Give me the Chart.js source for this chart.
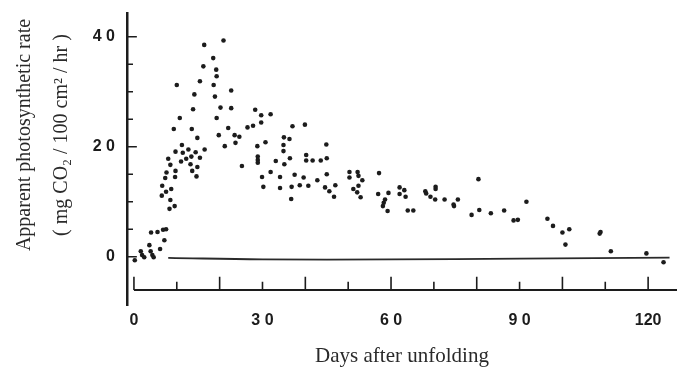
<!DOCTYPE html>
<html>
<head>
<meta charset="utf-8">
<script src="https://cdn.jsdelivr.net/npm/chart.js@4/dist/chart.umd.min.js"></script>
<style>
  html, body { margin: 0; padding: 0; background: #ffffff; }
  #wrap { width: 681px; height: 369px; position: relative; }
</style>
</head>
<body>
<div id="wrap"><canvas id="c"></canvas></div>
<script>
// ---- data ----
const days = [
  16.4, 20.9, 18.5, 16.2, 19.2, 19.3, 15.4, 18.6, 10.0, 22.7,
  14.1, 18.9, 13.8, 20.2, 22.7, 10.7, 19.3, 9.3, 13.5, 22.0,
  26.5, 14.8, 19.8, 23.5, 24.6, 23.7, 21.2, 11.2, 9.7, 11.4,
  12.7, 14.4, 16.5, 13.4, 12.2, 15.4, 11.0, 8.0, 13.2, 14.8,
  25.2, 8.5, 7.6, 9.7, 13.6, 9.6, 14.6, 7.3, 6.6, 8.7,
  7.5, 6.5, 8.5, 9.5, 8.3, 4.0, 5.5, 6.8, 7.5, 7.1,
  3.6, 6.1, 3.9, 4.3, 4.6, 1.6, 1.9, 2.4, 0.2,
  28.3, 29.7, 31.9, 27.8, 29.7, 28.8, 30.7, 28.9, 28.9, 28.9,
  33.1, 31.9, 29.9, 30.2, 37.0, 39.9, 35.0, 36.3, 34.9, 34.9,
  36.4, 35.1, 34.1, 34.1, 37.5, 36.8, 36.7, 38.7, 39.6, 40.7,
  40.2, 40.2, 41.7, 43.6, 45.0, 44.9, 42.8, 45.0, 44.6, 45.6,
  47.0, 46.7, 50.3, 50.3, 52.2, 52.4, 53.3, 52.4, 51.2, 52.1,
  52.9, 57.2, 57.0,
  59.4, 58.6, 58.3, 58.1, 59.2, 62.0, 62.0, 63.1, 63.4, 63.9,
  65.2, 68.0, 68.2, 70.4, 70.4, 69.2, 70.3, 72.5, 74.6, 74.7,
  75.6, 80.4, 78.8, 80.6, 83.3, 86.4, 88.6, 89.6, 91.6, 96.5,
  97.8, 100.0, 101.6, 100.7, 108.9, 108.7, 111.3, 119.6, 123.6
];
const rates = [
  38.5, 39.3, 36.1, 34.6, 34.0, 32.8, 31.9, 31.2, 31.2, 30.2,
  29.5, 29.1, 26.8, 27.1, 27.0, 25.2, 25.2, 23.2, 23.2, 23.4,
  23.5, 21.6, 22.1, 22.1, 21.8, 20.7, 20.1, 20.3, 19.1, 18.9,
  19.5, 19.0, 19.5, 18.2, 17.8, 18.0, 17.3, 17.8, 16.8, 16.3,
  16.5, 16.7, 15.3, 15.6, 15.6, 14.5, 14.6, 14.3, 12.9, 12.3,
  11.8, 11.1, 10.3, 9.2, 8.7, 4.4, 4.5, 4.9, 5.0, 3.0,
  2.1, 1.4, 1.0, 0.3, -0.1, 1.0, 0.3, -0.1, -0.65,
  26.7, 25.7, 25.9, 23.8, 24.4, 20.1, 20.8, 18.2, 17.6, 17.1,
  17.4, 15.4, 14.5, 12.7, 23.7, 24.0, 21.7, 21.4, 20.3, 19.2,
  17.9, 16.8, 14.5, 12.5, 14.9, 12.7, 10.5, 13.0, 14.4, 12.9,
  18.5, 17.5, 17.5, 17.5, 17.9, 20.4, 13.9, 15.0, 12.6, 11.9,
  13.0, 10.9, 15.4, 14.4, 15.4, 14.7, 13.9, 12.9, 12.3, 11.7,
  10.8, 15.2, 11.4,
  11.6, 10.4, 9.8, 9.2, 8.3, 12.6, 11.4, 12.1, 10.9, 8.4,
  8.4, 11.9, 11.5, 12.7, 12.3, 10.9, 10.4, 10.4, 9.5, 9.2,
  10.4, 14.1, 7.6, 8.5, 7.9, 8.4, 6.6, 6.7, 10.0, 6.9,
  5.6, 4.4, 5.0, 2.2, 4.5, 4.2, 1.0, 0.6, -1.0
];
// lower reference curve
const baseLineDays  = [8, 30, 60, 90, 125];
const baseLineRates = [-0.2, -0.5, -0.5, -0.35, -0.15];

// axes / ticks
const xTickValues = [0, 30, 60, 90, 120];
const xTickLabels = ["0", "3 0", "6 0", "9 0", "120"];
const yTickValues = [0, 20, 40];
const yTickLabels = ["0", "2 0", "4 0"];
const xMinorTicks = [0, 10, 20, 30, 40, 50, 60, 70, 80, 90, 100, 110, 120];
const yMinorTicks = [0, 5, 10, 15, 20, 25, 30, 35, 40];
const xAxisLineRate = -6.05;   // rate value at which the day axis line sits
const xTitle = "Days after unfolding";
const yTitleLines = ["Apparent photosynthetic rate", "( mg CO\u2082 / 100 cm\u00B2 / hr )"];

const INK = '#1c1c1c';
const X_MIN = -1.62, X_MAX = 126.74;
const Y_MIN = -8.78, Y_MAX = 44.3;

// axis decoration segments (built from the tick arrays, drawn by the line controller)
const dayAxisLine = [{ x: 0, y: xAxisLineRate }, { x: X_MAX, y: xAxisLineRate }];
const dayAxisTicks = xMinorTicks.flatMap(d => [
  { x: d, y: xAxisLineRate },
  { x: d, y: xAxisLineRate + (d % 20 === 0 ? 2.4 : 1.5) },
  { x: d, y: null }
]);
const rateAxisTicks = yMinorTicks.flatMap(v => [
  { x: X_MIN, y: v },
  { x: X_MIN + (v % 20 === 0 ? 2.3 : 1.4), y: v },
  { x: X_MIN, y: null }
]);

// two-line rotated rate-axis title
const yTitle = {
  id: 'yTitle',
  afterDraw(chart) {
    const ctx = chart.ctx;
    ctx.save();
    ctx.fillStyle = '#2a2a2a';
    ctx.font = '20px "Liberation Serif", "Times New Roman", serif';
    ctx.textAlign = 'center';
    ctx.textBaseline = 'middle';
    const cy = 135;
    [[25, yTitleLines[0]], [62, yTitleLines[1]]].forEach(([cx, t]) => {
      ctx.save();
      ctx.translate(cx, cy);
      ctx.rotate(-Math.PI / 2);
      ctx.fillText(t, 0, 0);
      ctx.restore();
    });
    ctx.restore();
  }
};

const tickFont = { family: '"Liberation Sans", Arial, sans-serif', size: 16, weight: 'bold' };
const segStyle = (w) => ({
  type: 'line', borderColor: INK, borderWidth: w, pointRadius: 0, pointHoverRadius: 0,
  tension: 0, spanGaps: false, fill: false, borderCapStyle: 'butt', clip: false
});

new Chart(document.getElementById('c'), {
  type: 'scatter',
  data: {
    datasets: [
      {
        data: days.map((d, i) => ({ x: d, y: rates[i] })),
        backgroundColor: INK,
        borderWidth: 0,
        pointRadius: 2.3
      },
      {
        type: 'line',
        data: baseLineDays.map((d, i) => ({ x: d, y: baseLineRates[i] })),
        borderColor: '#2a2a2a',
        borderWidth: 1.8,
        pointRadius: 0,
        tension: 0.4,
        fill: false
      },
      Object.assign({ data: dayAxisLine }, segStyle(2)),
      Object.assign({ data: dayAxisTicks }, segStyle(1.6)),
      Object.assign({ data: rateAxisTicks }, segStyle(1.5))
    ]
  },
  options: {
    responsive: true,
    maintainAspectRatio: false,
    animation: false,
    layout: { padding: { top: 13, right: 0, bottom: 0, left: 0 } },
    plugins: { legend: { display: false }, tooltip: { enabled: false } },
    scales: {
      x: {
        type: 'linear',
        position: 'bottom',
        min: X_MIN,
        max: X_MAX,
        afterBuildTicks: s => { s.ticks = xTickValues.map(v => ({ value: v })); },
        afterFit: s => { s.height = 64; s.paddingLeft = 0; s.paddingRight = 0; },
        grid: { display: false, drawTicks: false },
        border: { display: false },
        ticks: {
          padding: 6,
          color: INK,
          font: tickFont,
          maxRotation: 0,
          autoSkip: false,
          callback: v => xTickLabels[xTickValues.indexOf(v)]
        },
        title: {
          display: true,
          text: xTitle,
          color: '#2a2a2a',
          font: { family: '"Liberation Serif", "Times New Roman", serif', size: 21 },
          padding: { top: 0, bottom: 0 }
        }
      },
      y: {
        type: 'linear',
        position: 'left',
        min: Y_MIN,
        max: Y_MAX,
        afterBuildTicks: s => { s.ticks = yTickValues.map(v => ({ value: v })); },
        afterFit: s => { s.width = 127; s.paddingTop = 0; s.paddingBottom = 0; },
        grid: { display: false, drawTicks: false },
        border: { display: true, color: INK, width: 2.5 },
        ticks: {
          padding: 12,
          color: INK,
          font: tickFont,
          autoSkip: false,
          callback: v => yTickLabels[yTickValues.indexOf(v)]
        }
      }
    }
  },
  plugins: [yTitle]
});
</script>
</body>
</html>
